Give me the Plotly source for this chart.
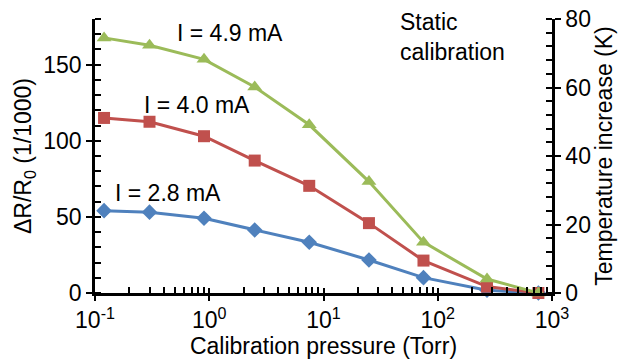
import plotly.graph_objects as go

pressure = [0.12, 0.3, 0.9, 2.5, 7.5, 25, 75, 270, 760]
dr_28 = [54.1, 53.1, 49.1, 41.4, 33.3, 21.7, 10.1, 1.8, 0]
dr_40 = [115.0, 112.5, 103.0, 87.0, 70.4, 45.9, 21.3, 4.2, 0]
dr_49 = [167.6, 162.7, 153.5, 135.3, 110.5, 73.2, 33.4, 9.2, 0]

series = [
    ("I = 2.8 mA", dr_28, "#4F81BD", "diamond", 12),
    ("I = 4.0 mA", dr_40, "#C0504D", "square", 12),
    ("I = 4.9 mA", dr_49, "#9BBB59", "triangle-up", 13),
]

xtickvals = [0.1, 1, 10, 100, 1000]
xticktext = ["10<sup>-1</sup>", "10<sup>0</sup>", "10<sup>1</sup>", "10<sup>2</sup>", "10<sup>3</sup>"]
xminor = [m * d for d in [0.1, 1, 10, 100] for m in range(2, 10)]

FONT = "Liberation Sans, Arial, sans-serif"
FS = 23
L, R, T, B = 95, 552, 19, 293

fig = go.Figure()
for name, ys, col, sym, sz in series:
    fig.add_trace(go.Scatter(x=pressure, y=ys, mode="lines+markers", name=name,
                             line=dict(color=col, width=3),
                             marker=dict(symbol=sym, size=sz, color=col),
                             showlegend=False, cliponaxis=False))

# helper traces to activate overlay axes
fig.add_trace(go.Scatter(x=[pressure[0]], y=[0], yaxis="y2", mode="markers",
                         marker=dict(opacity=0), showlegend=False, hoverinfo="skip"))
fig.add_trace(go.Scatter(x=[pressure[0]], y=[0], yaxis="y3", mode="markers",
                         marker=dict(opacity=0), showlegend=False, hoverinfo="skip"))
fig.add_trace(go.Scatter(x=[pressure[0]], y=[0], yaxis="y4", mode="markers",
                         marker=dict(opacity=0), showlegend=False, hoverinfo="skip"))
fig.add_trace(go.Scatter(x=[pressure[0]], y=[0], xaxis="x2", mode="markers",
                         marker=dict(opacity=0), showlegend=False, hoverinfo="skip"))

axfont = dict(family=FONT, size=FS, color="black")
common = dict(showgrid=False, zeroline=False, tickcolor="black", automargin=False)
fig.update_layout(
    width=618, height=360,
    margin=dict(l=L, r=618 - R, t=T, b=360 - B),
    paper_bgcolor="white", plot_bgcolor="white",
    font=dict(family=FONT, size=FS, color="black"),
    xaxis=dict(type="log", range=[-1, 3], tickvals=xtickvals, ticktext=xticktext,
               ticks="outside", ticklen=5, tickwidth=2,
               showline=True, linecolor="black", linewidth=2.5,
               minor=dict(tickvals=xminor, ticks="inside", ticklen=6, tickwidth=1.5,
                          tickcolor="black", showgrid=False),
               tickfont=axfont,
               title=dict(text="Calibration pressure (Torr)", font=axfont, standoff=2),
               **common),
    xaxis2=dict(type="log", range=[-1, 3], tickvals=xtickvals, overlaying="x",
                ticks="inside", ticklen=5, tickwidth=2, showticklabels=False,
                showline=False, **common),
    yaxis=dict(range=[0, 180], dtick=50, tick0=0,
               ticks="outside", ticklen=6, tickwidth=2,
               showline=True, linecolor="black", linewidth=2.5,
               minor=dict(dtick=10, ticks="inside", ticklen=6, tickwidth=1.5,
                          tickcolor="black", showgrid=False),
               tickfont=axfont,
               title=dict(text="ΔR/R<sub>0</sub> (1/1000)", font=axfont, standoff=6),
               **common),
    yaxis3=dict(range=[0, 180], dtick=50, tick0=0, overlaying="y",
                ticks="inside", ticklen=6, tickwidth=2, showticklabels=False,
                showline=False, **common),
    yaxis2=dict(range=[0, 80], dtick=20, overlaying="y", side="right",
                ticks="outside", ticklen=6, tickwidth=2,
                showline=True, linecolor="black", linewidth=2.5,
                minor=dict(dtick=4, ticks="inside", ticklen=6, tickwidth=1.5,
                           tickcolor="black", showgrid=False),
                tickfont=axfont,
                title=dict(text="Temperature increase (K)", font=axfont, standoff=6),
                **common),
    yaxis4=dict(range=[0, 80], dtick=20, overlaying="y", side="right",
                ticks="inside", ticklen=6, tickwidth=2, showticklabels=False,
                showline=False, **common),
)

annots = [
    ("I = 4.9 mA", 175, 33),
    ("I = 4.0 mA", 142, 105),
    ("I = 2.8 mA", 113, 193),
]
for txt, px, py in annots:
    fig.add_annotation(text=txt, xref="paper", yref="paper",
                       x=(px - L) / (R - L), y=1 - (py - T) / (B - T),
                       xanchor="left", yanchor="middle", showarrow=False,
                       font=dict(family=FONT, size=FS, color="black"))
fig.add_annotation(text="Static<br>calibration", xref="paper", yref="paper",
                   x=(398 - L) / (R - L), y=1 - (7 - T) / (B - T),
                   xanchor="left", yanchor="top", align="left", showarrow=False,
                   font=dict(family=FONT, size=FS, color="black"))

fig.write_html("out.html")
